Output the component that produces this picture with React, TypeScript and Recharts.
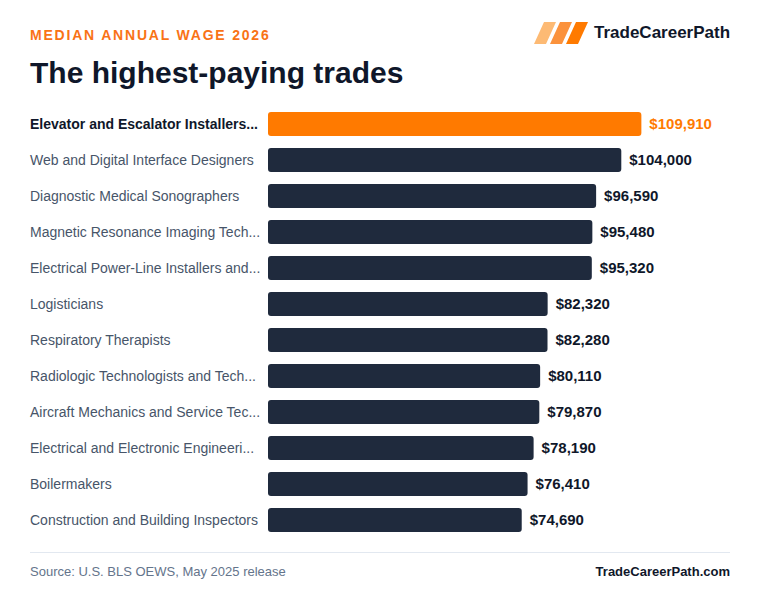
import React from 'react';
import { BarChart, Bar, XAxis, YAxis, Cell, LabelList } from 'recharts';

const occupations = [
  'Elevator and Escalator Installers...',
  'Web and Digital Interface Designers',
  'Diagnostic Medical Sonographers',
  'Magnetic Resonance Imaging Tech...',
  'Electrical Power-Line Installers and...',
  'Logisticians',
  'Respiratory Therapists',
  'Radiologic Technologists and Tech...',
  'Aircraft Mechanics and Service Tec...',
  'Electrical and Electronic Engineeri...',
  'Boilermakers',
  'Construction and Building Inspectors',
];

const medianWages = [
  109910, 104000, 96590, 95480, 95320, 82320, 82280, 80110, 79870, 78190, 76410,
  74690,
];

const wageDomain = [0, 136000];

const FONT = '"Liberation Sans", Arial, Helvetica, sans-serif';
const ORANGE = '#ff7a00';
const NAVY = '#1f2a3d';
const INK = '#0f172a';
const SLATE = '#475569';

const rows = occupations.map((name, i) => ({ name, wage: medianWages[i] }));

const fmt = (v: number) => '$' + v.toLocaleString('en-US');

const OccupationTick = (props: any) => {
  const { y, payload, index } = props;
  const top = index === 0;
  return (
    <text
      x={30}
      y={y}
      dy="0.35em"
      textAnchor="start"
      fontFamily={FONT}
      fontSize={14}
      fontWeight={top ? 700 : 400}
      fill={top ? INK : SLATE}
    >
      {payload.value}
    </text>
  );
};

const WageLabel = (props: any) => {
  const { x, y, width, height, value, index } = props;
  return (
    <text
      x={x + width + 8}
      y={y + height / 2}
      dy="0.35em"
      fontFamily={FONT}
      fontSize={15}
      fontWeight={700}
      fill={index === 0 ? ORANGE : INK}
    >
      {fmt(value)}
    </text>
  );
};

const Logo = () => (
  <svg
    width={60}
    height={26}
    style={{ position: 'absolute', left: 530, top: 20 }}
    viewBox="530 20 60 26"
  >
    {['#fdba74', '#fb923c', '#ff7a00'].map((c, i) => {
      const o = i * 16;
      return (
        <polygon
          key={c}
          points={`${544 + o},22 ${556 + o},22 ${546 + o},44 ${534 + o},44`}
          fill={c}
        />
      );
    })}
  </svg>
);

export default function App() {
  return (
    <div
      style={{
        position: 'absolute',
        left: 0,
        top: 0,
        width: 760,
        height: 608,
        background: '#fff',
        fontFamily: FONT,
        overflow: 'hidden',
      }}
    >
      <div
        style={{
          position: 'absolute',
          left: 30,
          top: 27.5,
          fontSize: 14,
          lineHeight: '14px',
          fontWeight: 700,
          letterSpacing: 1.8,
          color: '#f97316',
          whiteSpace: 'nowrap',
        }}
      >
        MEDIAN ANNUAL WAGE 2026
      </div>
      <Logo />
      <div
        style={{
          position: 'absolute',
          left: 594,
          top: 24,
          fontSize: 17,
          lineHeight: '17px',
          fontWeight: 700,
          color: INK,
          whiteSpace: 'nowrap',
        }}
      >
        TradeCareerPath
      </div>
      <div
        style={{
          position: 'absolute',
          left: 30,
          top: 58,
          fontSize: 30,
          lineHeight: '30px',
          fontWeight: 700,
          color: INK,
          whiteSpace: 'nowrap',
        }}
      >
        The highest-paying trades
      </div>

      <div style={{ position: 'absolute', left: 0, top: 106 }}>
        <BarChart
          width={760}
          height={432}
          data={rows}
          layout="vertical"
          margin={{ top: 0, right: 30, bottom: 0, left: 0 }}
        >
          <XAxis type="number" domain={wageDomain} hide />
          <YAxis
            type="category"
            dataKey="name"
            width={268}
            axisLine={false}
            tickLine={false}
            tick={<OccupationTick />}
            interval={0}
          />
          <Bar
            dataKey="wage"
            barSize={24}
            radius={3}
            isAnimationActive={false}
          >
            {rows.map((r, i) => (
              <Cell key={r.name} fill={i === 0 ? ORANGE : NAVY} />
            ))}
            <LabelList dataKey="wage" content={<WageLabel />} />
          </Bar>
        </BarChart>
      </div>

      <div
        style={{
          position: 'absolute',
          left: 30,
          top: 552,
          width: 700,
          height: 1,
          background: '#e2e8f0',
        }}
      />
      <div
        style={{
          position: 'absolute',
          left: 30,
          top: 565,
          fontSize: 13,
          lineHeight: '13px',
          color: '#64748b',
          whiteSpace: 'nowrap',
        }}
      >
        Source: U.S. BLS OEWS, May 2025 release
      </div>
      <div
        style={{
          position: 'absolute',
          right: 30,
          top: 565,
          fontSize: 13,
          lineHeight: '13px',
          fontWeight: 700,
          color: INK,
          whiteSpace: 'nowrap',
        }}
      >
        TradeCareerPath.com
      </div>
    </div>
  );
}
